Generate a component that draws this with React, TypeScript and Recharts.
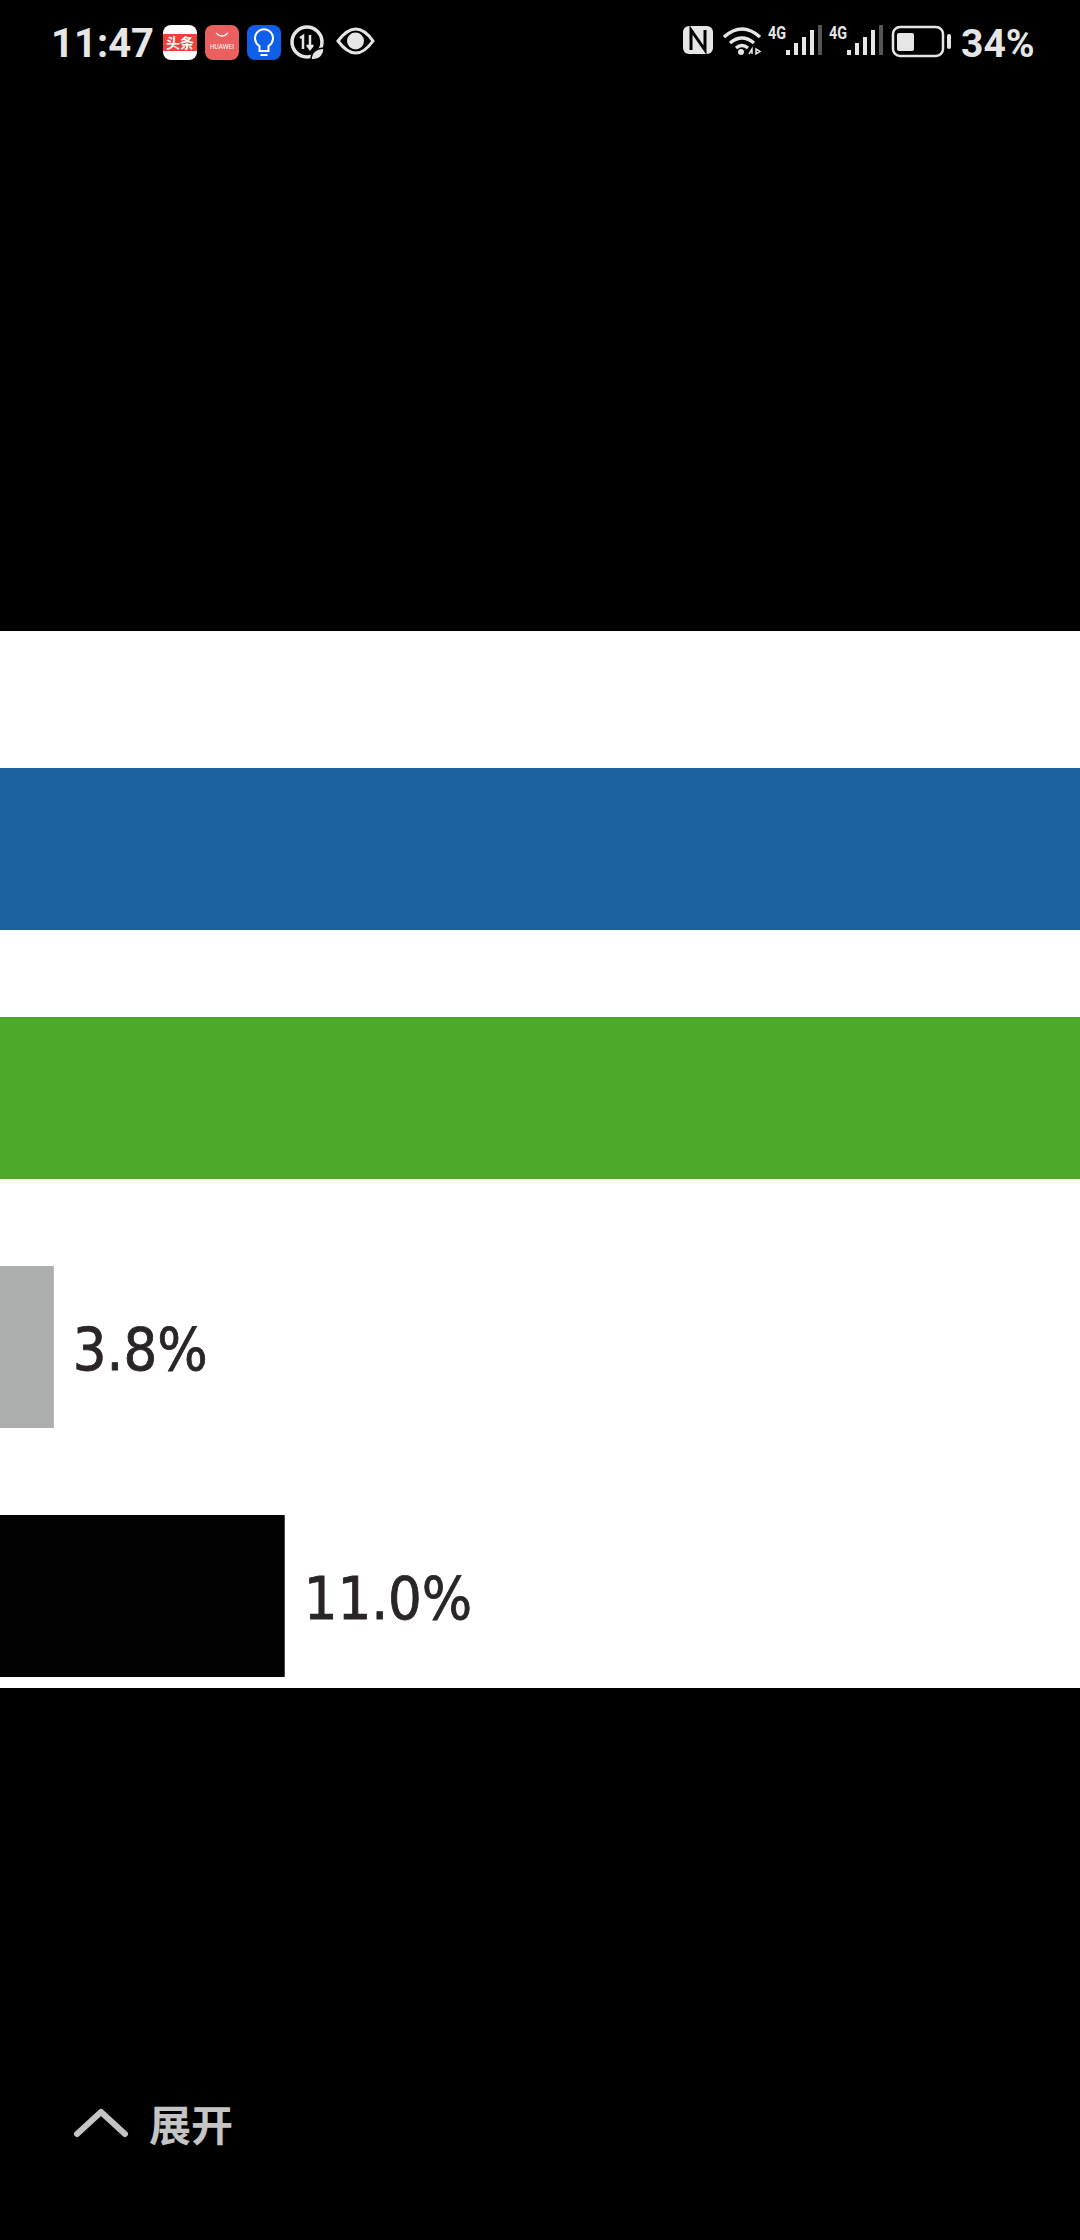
import React from 'react'
import { BarChart, Bar, XAxis, YAxis, Cell, LabelList } from 'recharts'

// the picture is a crop: category names and the two long bars' ends are off screen
const categories = ['blue', 'green', 'gray', 'black']
const shares = [40.0, 38.0, 3.8, 11.0]
const shownLabels = [null, null, '3.8%', '11.0%']
const barColors = ['#1c62a0', '#4da92a', '#adafaf', '#020202']

const chartData = categories.map((name, i) => ({ name, share: shares[i], label: shownLabels[i] }))

const LIGHT = '#e6e6e6'

function StatusBar() {
  return (
    <svg width={1080} height={90} style={{ position: 'absolute', left: 0, top: 0 }}>
      <text x={51} y={57} fontFamily="Roboto" fontWeight={700} fontSize={40} fill={LIGHT}>11:47</text>

      <rect x={163} y={25} width={34} height={35} rx={8} fill="#fff" />
      <rect x={163} y={34} width={34} height={17} fill="#ef4138" />
      <text x={180} y={48} textAnchor="middle" fontFamily="Noto Sans CJK SC" fontWeight={700} fontSize={14} fill="#fff">头条</text>

      <rect x={205} y={25} width={34} height={35} rx={8} fill="#ec5f5f" />
      <path d="M216 33 q6 6 12 0" stroke="#fff" strokeWidth={1.2} fill="none" />
      <text x={222} y={49} textAnchor="middle" fontFamily="Roboto" fontSize={6.5} fill="#fff">HUAWEI</text>

      <rect x={247} y={25} width={34} height={35} rx={8} fill="#0f5fe8" />
      <path d="M259.5 46 a9 9 0 1 1 9 0 v5 h-9 z M260.5 55 h7" stroke="#fff" strokeWidth={2} fill="none" />

      <circle cx={307} cy={42} r={15} stroke={LIGHT} strokeWidth={3.5} fill="none" />
      <path d="M300 38 l3 -2 v13 M310 35 v14 m-3 -4 l3 4 l3 -4" stroke={LIGHT} strokeWidth={2.5} fill="none" />
      <path d="M311 60 q0 -11 13 -12 q0 12 -13 12 z" fill={LIGHT} stroke="#000" strokeWidth={1.5} />

      <path d="M338 41 q18 -24 35 0 q-17 24 -35 0 z" stroke={LIGHT} strokeWidth={3} fill="none" />
      <circle cx={355.5} cy={41} r={8.5} fill={LIGHT} />

      <rect x={683} y={26} width={30} height={28} rx={6} fill={LIGHT} />
      <path d="M691 50 v-20 l14 20 v-20" stroke="#000" strokeWidth={3} fill="none" />

      <path d="M724 37 q18 -16 36 0 M730 43 q12 -10 24 0 M736 48 q6 -5 12 0" stroke={LIGHT} strokeWidth={3.5} fill="none" />
      <circle cx={741} cy={52} r={3} fill={LIGHT} />
      <path d="M749 54 l3 -5 v5 M756 49 l4 2.5 l-4 2.5 z" stroke={LIGHT} strokeWidth={1.5} fill="none" />

      {[768, 829].map((x) => (
        <g key={x}>
          <text x={x} y={39} fontFamily="Roboto" fontWeight={700} fontSize={19} fill={LIGHT} textLength={18} lengthAdjust="spacingAndGlyphs">4G</text>
          <rect x={x + 18} y={50} width={4} height={5} fill={LIGHT} />
          <rect x={x + 26} y={43} width={4} height={12} fill={LIGHT} />
          <rect x={x + 34} y={37} width={4} height={18} fill={LIGHT} />
          <rect x={x + 42} y={30} width={4} height={25} fill={LIGHT} />
          <rect x={x + 50} y={25} width={4} height={30} fill="#555" />
        </g>
      ))}

      <rect x={893} y={27} width={50} height={29} rx={7} stroke={LIGHT} strokeWidth={2.5} fill="none" />
      <rect x={897} y={33} width={17} height={18} rx={2} fill={LIGHT} />
      <rect x={947} y={34} width={4} height={15} rx={2} fill={LIGHT} />
      <text x={961} y={57} fontFamily="Roboto" fontWeight={700} fontSize={39} fill={LIGHT}>34%</text>
    </svg>
  )
}

export default function App() {
  return (
    <div style={{ position: 'absolute', left: 0, top: 0, width: 1080, height: 2240, background: '#000', overflow: 'hidden' }}>
      <StatusBar />

      <div style={{ position: 'absolute', left: 0, top: 631, width: 1080, height: 1057, background: '#fff', overflow: 'hidden' }}>
        <div style={{ position: 'absolute', left: -68, top: 0 }}>
          <BarChart
            width={1443}
            height={1089}
            data={chartData}
            layout="vertical"
            margin={{ top: 93, right: 0, bottom: 0, left: 0 }}
          >
            <XAxis type="number" domain={[0, 45]} hide />
            <YAxis type="category" dataKey="name" hide />
            <Bar dataKey="share" barSize={162} isAnimationActive={false}>
              {chartData.map((d, i) => (
                <Cell key={d.name} fill={barColors[i]} />
              ))}
              <LabelList
                dataKey="label"
                position="right"
                offset={19}
                dy={2}
                style={{ fontFamily: '"DejaVu Sans Condensed", "DejaVu Sans"', fontSize: 59, fill: '#2a2528', stroke: '#2a2528', strokeWidth: 0.8, filter: 'blur(0.6px)' }}
              />
            </Bar>
          </BarChart>
        </div>
      </div>

      <svg width={200} height={60} style={{ position: 'absolute', left: 60, top: 2095 }}>
        <path d="M17 39 L41 17 L65 39" stroke="#c4c4c4" strokeWidth={6} strokeLinecap="round" strokeLinejoin="round" fill="none" />
      </svg>
      <div style={{ position: 'absolute', left: 149, top: 2093, fontFamily: '"Noto Sans CJK SC"', fontSize: 42, fontWeight: 700, lineHeight: '60px', color: '#c4c4c4' }}>
        展开
      </div>
    </div>
  )
}
